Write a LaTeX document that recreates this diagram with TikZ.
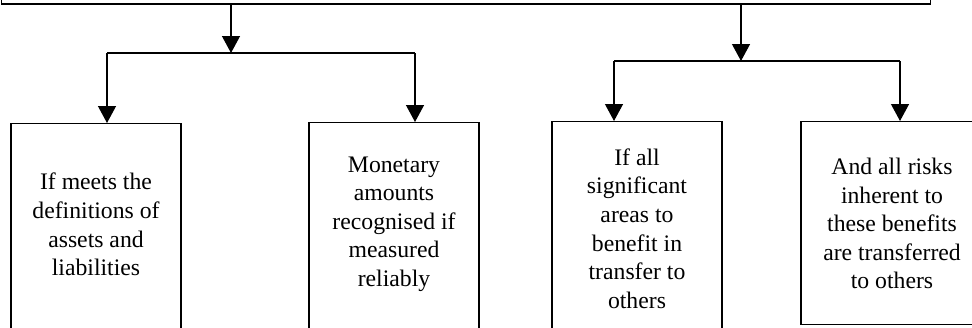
\documentclass[tikz,border=0pt]{standalone}
\usepackage{fontspec}
\setmainfont{Liberation Serif}
\usetikzlibrary{arrows.meta,positioning}
\tikzset{
  box/.style={draw,rectangle,line width=0.65pt,minimum width=85pt,minimum height=130pt,anchor=north,inner sep=0pt},
  txt/.style={align=center,inner sep=0pt,font=\fontsize{11.85}{14.3}\selectfont},
  arr/.style={-{Triangle[width=9pt,length=8.5pt]}}
}

\begin{document}
\begin{tikzpicture}[x=0.5pt,y=-0.5pt,line width=0.65pt]
  \useasboundingbox (0,0) rectangle (972,327);
  \clip (0,0) rectangle (972,327);
  % heading box, cut off at the top
  \node[draw,rectangle,line width=0.65pt,anchor=south west,inner sep=0pt,
        minimum width=464.5pt,minimum height=40pt] (top) at (1,4.5) {};
  % the four condition boxes
  \node[box] (assets) at (96,123) {};
  \node[box] (money) at (394,122) {};
  \node[box] (areas) at (637,121) {};
  \node[box,minimum width=91pt,minimum height=101.5pt] (risks) at (892,121) {};
  \node[txt] (assets text) at (96,224.5) {If meets the\\definitions of\\assets and\\liabilities};
  \node[txt] (money text) at (394,224) {Monetary\\amounts\\recognised if\\measured\\reliably};
  \node[txt] (areas text) at (637,228.5) {If all\\significant\\areas to\\benefit in\\transfer to\\others};
  \node[txt] (risks text) at (892,223.5) {And all risks\\inherent to\\these benefits\\are transferred\\to others};
  % forks
  \coordinate (lfork) at (231,53);
  \coordinate (rfork) at (741,61);
  \coordinate (l1) at (107,53);
  \coordinate (l2) at (415,53);
  \coordinate (r1) at (614,61);
  \coordinate (r2) at (900,61);
  \draw (l1) -- (l2);
  \draw (r1) -- (r2);
  \path[arr]
    (top.south -| lfork) edge (lfork)
    (top.south -| rfork) edge (rfork)
    (l1) edge (l1 |- assets.north)
    (l2) edge (l2 |- money.north)
    (r1) edge (r1 |- areas.north)
    (r2) edge (r2 |- risks.north);
\end{tikzpicture}
\end{document}
